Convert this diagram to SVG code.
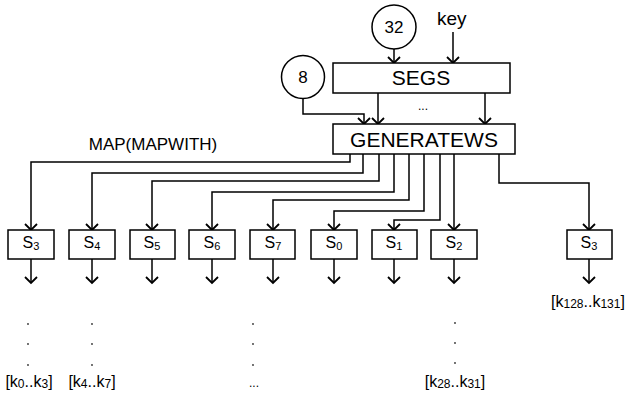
<svg xmlns="http://www.w3.org/2000/svg" width="626" height="393" viewBox="0 0 626 393">
<style>
.box{fill:#fff;stroke:#000;stroke-width:1.5}
.ln{fill:none;stroke:#000;stroke-width:1.5}
text{font-family:"Liberation Sans",Arial,sans-serif;fill:#000}
.big{font-size:21px;text-anchor:middle}
.s{font-size:16px;text-anchor:middle}
.sub{font-size:11px}
.lab{font-size:16px;text-anchor:middle}
.lsub{font-size:12px}
.dot{font-size:12px;text-anchor:middle}
.pt{fill:#333}
</style>
<defs>
<marker id="arr" viewBox="-8 -8 10 16" refX="0" refY="0" markerWidth="10" markerHeight="16" orient="auto" markerUnits="userSpaceOnUse">
<path d="M-6,-6 L0,0 L-6,6" fill="none" stroke="#000" stroke-width="1.8"/>
</marker>
</defs>
<rect width="626" height="393" fill="#fff"/>
<g id="connectors" class="ln" marker-end="url(#arr)">
<path d="M394,49 V63"/>
<path d="M453,32 V63"/>
<path d="M303,99 V114 H364 V124"/>
<path d="M378,93 V124"/>
<path d="M485,93 V124"/>
<path d="M350,154 V162 H31 V230"/>
<path d="M363,154 V173 H92 V230"/>
<path d="M379,154 V181 H152 V230"/>
<path d="M394,154 V192 H212 V230"/>
<path d="M409,154 V200 H273 V230"/>
<path d="M424,154 V211 H334 V230"/>
<path d="M440,154 V220 H394 V230"/>
<path d="M454,154 V230"/>
<path d="M499,154 V183 H589 V230"/>
<path d="M31,259 V283"/>
<path d="M92,259 V283"/>
<path d="M152,259 V283"/>
<path d="M212,259 V283"/>
<path d="M273,259 V283"/>
<path d="M334,259 V283"/>
<path d="M394,259 V283"/>
<path d="M454,259 V283"/>
<path d="M589,259 V283"/>
</g>
<g id="n32"><circle cx="394" cy="27" r="22" class="box"/><text x="394" y="33" style="font-size:17px;text-anchor:middle">32</text></g>
<g id="key"><text x="437" y="25" style="font-size:19px">key</text></g>
<g id="n8"><circle cx="303" cy="77" r="21.5" class="box"/><text x="303" y="83" style="font-size:17px;text-anchor:middle">8</text></g>
<g id="segs"><rect x="333" y="63" width="177" height="30" class="box"/><text x="421" y="85" class="big">SEGS</text></g>
<text x="423" y="110" class="dot">...</text>
<g id="gen"><rect x="333" y="124" width="182" height="30" class="box"/><text x="424" y="147" class="big">GENERATEWS</text></g>
<text x="153" y="150" style="font-size:17px;text-anchor:middle">MAP(MAPWITH)</text>
<g id="b1"><rect x="8" y="230" width="46" height="29" class="box"/><text x="31" y="248" class="s">S<tspan class="sub" dy="2">3</tspan></text></g>
<g id="b2"><rect x="69" y="230" width="46" height="29" class="box"/><text x="92" y="248" class="s">S<tspan class="sub" dy="2">4</tspan></text></g>
<g id="b3"><rect x="130" y="230" width="45" height="29" class="box"/><text x="152" y="248" class="s">S<tspan class="sub" dy="2">5</tspan></text></g>
<g id="b4"><rect x="189" y="230" width="46" height="29" class="box"/><text x="212" y="248" class="s">S<tspan class="sub" dy="2">6</tspan></text></g>
<g id="b5"><rect x="250" y="230" width="45" height="29" class="box"/><text x="273" y="248" class="s">S<tspan class="sub" dy="2">7</tspan></text></g>
<g id="b6"><rect x="311" y="230" width="46" height="29" class="box"/><text x="334" y="248" class="s">S<tspan class="sub" dy="2">0</tspan></text></g>
<g id="b7"><rect x="372" y="230" width="45" height="29" class="box"/><text x="394" y="248" class="s">S<tspan class="sub" dy="2">1</tspan></text></g>
<g id="b8"><rect x="431" y="230" width="46" height="29" class="box"/><text x="454" y="248" class="s">S<tspan class="sub" dy="2">2</tspan></text></g>
<g id="b9"><rect x="567" y="230" width="45" height="29" class="box"/><text x="589" y="248" class="s">S<tspan class="sub" dy="2">3</tspan></text></g>
<g id="dots" class="pt">
<circle cx="28" cy="324" r="0.9"/><circle cx="28" cy="344" r="0.9"/><circle cx="28" cy="365" r="0.9"/>
<circle cx="92" cy="324" r="0.9"/><circle cx="92" cy="344" r="0.9"/><circle cx="92" cy="365" r="0.9"/>
<circle cx="253" cy="324" r="0.9"/><circle cx="253" cy="344" r="0.9"/><circle cx="253" cy="365" r="0.9"/>
<circle cx="455" cy="323" r="0.9"/><circle cx="455" cy="343" r="0.9"/><circle cx="455" cy="363" r="0.9"/>
</g>
<text x="29" y="387" class="lab">[k<tspan class="lsub" dy="1">0</tspan><tspan dy="-1">..k</tspan><tspan class="lsub" dy="1">3</tspan><tspan dy="-1">]</tspan></text>
<text x="92" y="387" class="lab">[k<tspan class="lsub" dy="1">4</tspan><tspan dy="-1">..k</tspan><tspan class="lsub" dy="1">7</tspan><tspan dy="-1">]</tspan></text>
<text x="254" y="387" class="dot">...</text>
<text x="455" y="387" class="lab">[k<tspan class="lsub" dy="1">28</tspan><tspan dy="-1">..k</tspan><tspan class="lsub" dy="1">31</tspan><tspan dy="-1">]</tspan></text>
<text x="588" y="307" class="lab">[k<tspan class="lsub" dy="1">128</tspan><tspan dy="-1">..k</tspan><tspan class="lsub" dy="1">131</tspan><tspan dy="-1">]</tspan></text>
</svg>
